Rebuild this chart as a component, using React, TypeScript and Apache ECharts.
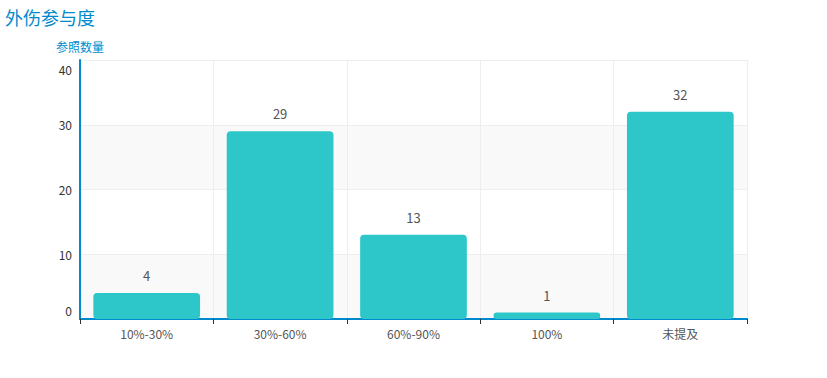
import React, { useEffect, useRef } from "react";
import * as echarts from "echarts";

const categories = ["10%-30%", "30%-60%", "60%-90%", "100%", "未提及"];
const values = [4, 29, 13, 1, 32];
const titleText = "外伤参与度";
const yName = "参照数量";

export default function App() {
  const ref = useRef<HTMLDivElement>(null);
  useEffect(() => {
    if (!ref.current) return;
    const chart = echarts.init(ref.current, null, { renderer: "svg" });
    const font = "'Microsoft YaHei', 'Noto Sans CJK SC', 'Noto Sans', sans-serif";
    chart.setOption({
      animation: false,
      textStyle: { fontFamily: font },
      title: {
        text: titleText,
        left: 0,
        top: 3,
        textStyle: { color: "#008acd", fontSize: 18, fontWeight: "normal", fontFamily: font },
      },
      grid: { left: 80, right: 80, top: 60, bottom: 59 },
      xAxis: {
        type: "category",
        data: categories,
        axisLine: { lineStyle: { color: "#008acd", width: 2 } },
        axisTick: { show: true, lineStyle: { color: "#333" } },
        axisLabel: { color: "#555", fontSize: 12 },
        splitLine: { show: true, lineStyle: { color: "#eee" } },
      },
      yAxis: {
        type: "value",
        min: 0,
        max: 40,
        interval: 10,
        name: yName,
        nameGap: 8,
        nameTextStyle: { color: "#008acd", fontSize: 12 },
        axisLine: { show: true, lineStyle: { color: "#008acd", width: 2 } },
        axisTick: { show: false },
        axisLabel: {
          color: "#333",
          fontSize: 12,
          lineHeight: 18,
          verticalAlignMinLabel: "bottom",
          verticalAlignMaxLabel: "top",
        },
        splitLine: { show: true, lineStyle: { color: "#eee" } },
        splitArea: { show: true, areaStyle: { color: ["#f9f9f9", "#ffffff"] } },
      },
      series: [
        {
          type: "bar",
          data: values,
          barWidth: "80%",
          itemStyle: { color: "#2ec7c9", borderRadius: 4 },
          label: { show: true, position: "top", distance: 11, color: "#555", fontSize: 13 },
        },
      ],
    });
    return () => chart.dispose();
  }, []);
  return (
    <div
      ref={ref}
      style={{ position: "absolute", left: 0, top: 0, width: 827, height: 378 }}
    />
  );
}
